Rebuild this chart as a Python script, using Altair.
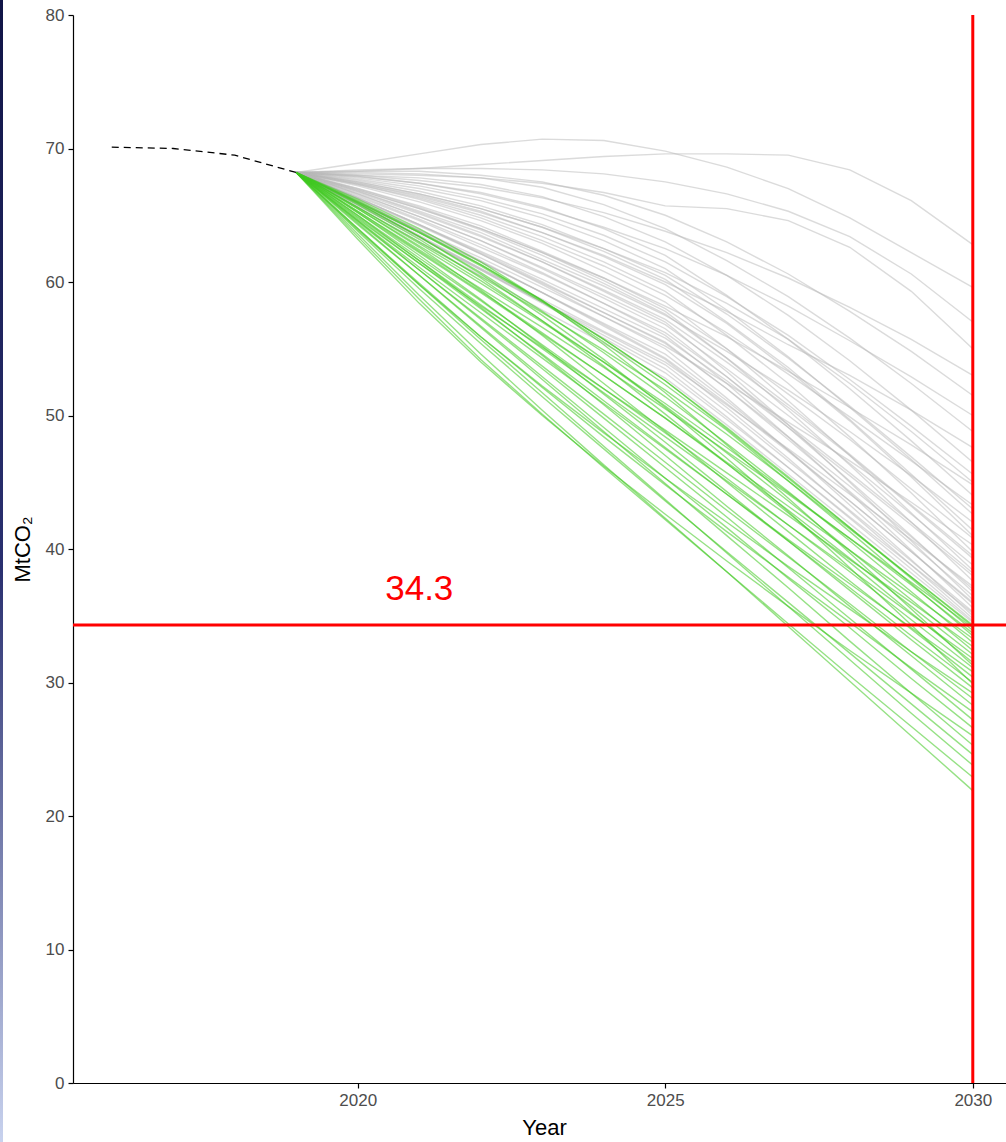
import altair as alt
import pandas as pd

# ---------------- data ----------------
hist_years = [2016, 2017, 2018, 2019]
hist_values = [70.1, 70.0, 69.5, 68.2]

years = [2019, 2020, 2021, 2022, 2023, 2024, 2025, 2026, 2027, 2028, 2029, 2030]

grey_runs = [
    [68.2, 65.6, 63.0, 60.5, 57.9, 55.4, 52.8, 49.3, 45.6, 41.9, 38.2, 34.5],
    [68.2, 65.9, 63.5, 61.0, 58.5, 56.0, 53.5, 49.9, 46.1, 42.3, 38.5, 34.6],
    [68.2, 66.1, 63.9, 61.6, 59.2, 56.7, 54.2, 50.6, 46.8, 42.8, 38.8, 34.8],
    [68.2, 66.3, 64.3, 62.1, 59.8, 57.4, 55.0, 51.3, 47.4, 43.3, 39.2, 35.0],
    [68.2, 65.7, 63.3, 60.9, 58.5, 56.2, 53.8, 50.3, 46.6, 42.9, 39.1, 35.3],
    [68.2, 66.5, 64.7, 62.8, 60.7, 58.4, 56.0, 52.4, 48.4, 44.2, 39.9, 35.6],
    [68.2, 66.0, 63.8, 61.5, 59.2, 56.9, 54.6, 51.1, 47.4, 43.6, 39.8, 35.9],
    [68.2, 66.8, 65.2, 63.5, 61.5, 59.3, 57.0, 53.3, 49.3, 45.0, 40.6, 36.2],
    [68.2, 66.2, 64.2, 62.1, 59.9, 57.7, 55.5, 52.0, 48.2, 44.3, 40.4, 36.5],
    [68.2, 66.6, 64.9, 63.1, 61.0, 58.8, 56.5, 52.9, 49.1, 45.1, 41.0, 36.8],
    [68.2, 65.8, 63.4, 61.0, 58.7, 56.3, 54.0, 50.8, 47.5, 44.1, 40.7, 37.2],
    [68.2, 67.0, 65.6, 64.0, 62.2, 60.1, 57.8, 54.3, 50.4, 46.3, 42.0, 37.6],
    [68.2, 66.3, 64.3, 62.3, 60.2, 58.0, 55.8, 52.6, 49.1, 45.5, 41.8, 38.0],
    [68.2, 67.2, 66.0, 64.6, 62.9, 60.8, 58.5, 55.0, 51.1, 47.0, 42.7, 38.4],
    [68.2, 66.6, 64.9, 63.1, 61.1, 59.0, 56.8, 53.5, 50.0, 46.4, 42.6, 38.8],
    [68.2, 66.7, 65.1, 63.4, 61.5, 59.4, 57.2, 54.0, 50.6, 47.0, 43.2, 39.3],
    [68.2, 67.3, 66.3, 65.0, 63.4, 61.5, 59.3, 56.0, 52.4, 48.4, 44.2, 39.8],
    [68.2, 66.0, 63.9, 61.8, 59.6, 57.4, 55.2, 52.4, 49.5, 46.6, 43.5, 40.3],
    [68.2, 67.0, 65.7, 64.2, 62.3, 60.3, 58.0, 55.0, 51.6, 48.2, 44.5, 40.8],
    [68.2, 67.5, 66.6, 65.5, 64.1, 62.3, 60.2, 57.0, 53.6, 49.7, 45.6, 41.4],
    [68.2, 66.8, 65.3, 63.7, 61.7, 59.7, 57.5, 54.8, 51.9, 48.8, 45.5, 42.0],
    [68.2, 67.7, 67.0, 66.1, 64.8, 63.1, 61.0, 57.9, 54.4, 50.6, 46.7, 42.6],
    [68.2, 67.3, 66.2, 64.8, 63.1, 61.2, 59.0, 56.2, 53.1, 49.9, 46.6, 43.3],
    [68.2, 67.9, 67.4, 66.7, 65.6, 64.0, 62.0, 59.0, 55.7, 52.0, 48.1, 44.0],
    [68.2, 66.9, 65.5, 64.0, 62.2, 60.3, 58.2, 55.9, 53.3, 50.6, 47.8, 44.8],
    [68.2, 67.8, 67.2, 66.3, 65.1, 63.5, 61.5, 58.9, 56.0, 52.7, 49.2, 45.6],
    [68.2, 68.0, 67.8, 67.3, 66.4, 64.9, 63.0, 60.5, 57.5, 54.1, 50.4, 46.5],
    [68.2, 67.4, 66.5, 65.3, 63.7, 62.0, 60.0, 57.8, 55.3, 53.0, 50.4, 47.6],
    [68.2, 68.2, 68.1, 67.8, 67.1, 65.8, 64.0, 61.6, 58.9, 55.8, 52.4, 48.8],
    [68.2, 67.9, 67.4, 66.6, 65.5, 64.1, 62.5, 60.5, 58.2, 55.6, 52.9, 50.0],
    [68.2, 68.3, 68.3, 68.0, 67.5, 66.5, 65.0, 63.0, 60.6, 57.8, 54.8, 51.5],
    [68.2, 68.0, 67.6, 67.1, 66.3, 65.2, 63.8, 62.2, 60.3, 58.1, 55.7, 53.0],
    [68.2, 68.1, 68.0, 67.8, 67.4, 66.7, 65.7, 65.5, 64.6, 62.6, 59.3, 55.0],
    [68.2, 68.4, 68.5, 68.5, 68.4, 68.1, 67.5, 66.6, 65.3, 63.4, 60.6, 57.0],
    [68.2, 68.9, 69.6, 70.3, 70.7, 70.6, 69.8, 68.6, 67.0, 64.8, 62.2, 59.6],
    [68.2, 68.3, 68.5, 68.8, 69.1, 69.4, 69.6, 69.6, 69.5, 68.4, 66.1, 62.8],
    [68.2, 67.5, 66.6, 65.5, 64.1, 62.5, 60.7, 58.4, 55.7, 52.4, 48.8, 45.0],
    [68.2, 67.4, 66.4, 65.2, 63.7, 61.9, 59.8, 56.9, 53.4, 49.6, 45.4, 41.0],
    [68.2, 66.4, 64.6, 62.6, 60.6, 58.4, 56.2, 52.9, 49.3, 45.7, 42.0, 38.2],
    [68.2, 65.9, 63.7, 61.5, 59.2, 56.8, 54.3, 50.9, 47.3, 43.6, 39.8, 36.0],
    [68.2, 67.6, 66.8, 65.7, 64.3, 62.5, 60.5, 57.6, 54.3, 50.7, 46.9, 43.0],
    [68.2, 66.9, 65.5, 63.9, 62.0, 59.9, 57.6, 54.3, 50.8, 47.1, 43.3, 39.5],
    [68.2, 66.3, 64.3, 62.2, 60.0, 57.7, 55.4, 52.0, 48.4, 44.7, 40.9, 37.0],
    [68.2, 65.8, 63.4, 60.9, 58.4, 55.8, 53.2, 49.7, 46.1, 42.4, 38.8, 35.2],
]

green_runs = [
    [68.2, 63.6, 59.0, 54.6, 50.4, 46.3, 42.3, 38.3, 34.2, 30.1, 26.0, 21.9],
    [68.2, 63.4, 58.7, 54.2, 50.1, 46.1, 42.2, 38.3, 34.4, 30.5, 26.7, 22.9],
    [68.2, 64.0, 59.8, 55.7, 51.7, 47.7, 43.7, 39.7, 35.7, 31.7, 27.7, 23.8],
    [68.2, 63.8, 59.5, 55.4, 51.4, 47.5, 43.6, 39.8, 36.0, 32.2, 28.4, 24.6],
    [68.2, 64.4, 60.5, 56.6, 52.7, 48.8, 44.9, 41.0, 37.1, 33.1, 29.2, 25.3],
    [68.2, 63.2, 58.4, 54.0, 50.0, 46.2, 42.6, 39.1, 35.7, 32.4, 29.2, 26.0],
    [68.2, 64.3, 60.5, 56.7, 52.9, 49.1, 45.3, 41.6, 37.8, 34.1, 30.3, 26.6],
    [68.2, 64.6, 60.9, 57.2, 53.5, 49.8, 46.1, 42.4, 38.6, 34.8, 31.0, 27.2],
    [68.2, 64.0, 59.9, 55.9, 52.1, 48.4, 44.8, 41.3, 37.9, 34.5, 31.1, 27.8],
    [68.2, 65.0, 61.6, 58.1, 54.5, 50.8, 47.0, 43.2, 39.5, 35.7, 32.0, 28.3],
    [68.2, 64.5, 60.9, 57.3, 53.7, 50.1, 46.5, 42.9, 39.4, 35.9, 32.3, 28.8],
    [68.2, 63.9, 59.8, 55.9, 52.2, 48.7, 45.3, 42.0, 38.7, 35.5, 32.3, 29.2],
    [68.2, 65.2, 62.0, 58.7, 55.2, 51.6, 48.0, 44.3, 40.6, 36.9, 33.2, 29.6],
    [68.2, 64.8, 61.4, 58.0, 54.6, 51.1, 47.6, 44.1, 40.6, 37.1, 33.5, 30.0],
    [68.2, 65.5, 62.6, 59.4, 56.0, 52.4, 48.8, 45.0, 41.3, 37.6, 34.0, 30.4],
    [68.2, 64.6, 61.1, 57.7, 54.3, 50.9, 47.5, 44.1, 40.7, 37.4, 34.1, 30.8],
    [68.2, 65.0, 61.8, 58.6, 55.3, 52.0, 48.7, 45.3, 41.8, 38.3, 34.7, 31.1],
    [68.2, 65.8, 63.2, 60.3, 57.1, 53.7, 50.1, 46.4, 42.7, 39.0, 35.2, 31.5],
    [68.2, 64.9, 61.6, 58.3, 55.0, 51.7, 48.4, 45.1, 41.8, 38.5, 35.1, 31.8],
    [68.2, 65.3, 62.3, 59.3, 56.2, 53.0, 49.8, 46.4, 42.9, 39.3, 35.7, 32.1],
    [68.2, 65.6, 62.9, 60.1, 57.1, 54.0, 50.7, 47.2, 43.6, 39.9, 36.2, 32.4],
    [68.2, 64.7, 61.4, 58.2, 55.1, 52.0, 48.9, 45.7, 42.5, 39.2, 36.0, 32.7],
    [68.2, 65.9, 63.4, 60.7, 57.8, 54.7, 51.4, 47.9, 44.3, 40.6, 36.8, 33.0],
    [68.2, 65.2, 62.2, 59.2, 56.1, 53.0, 49.8, 46.5, 43.2, 39.9, 36.6, 33.3],
    [68.2, 66.0, 63.7, 61.2, 58.5, 55.5, 52.3, 48.9, 45.1, 41.3, 37.4, 33.5],
    [68.2, 65.5, 62.7, 59.9, 57.0, 54.0, 50.9, 47.6, 44.2, 40.8, 37.3, 33.7],
    [68.2, 66.1, 63.8, 61.3, 58.6, 55.7, 52.6, 49.1, 45.4, 41.6, 37.8, 33.9],
    [68.2, 65.3, 62.4, 59.5, 56.6, 53.6, 50.5, 47.3, 44.1, 40.8, 37.5, 34.1],
    [68.2, 66.0, 63.7, 61.3, 58.6, 55.7, 52.6, 49.0, 45.3, 41.6, 37.9, 34.2],
    [68.2, 65.6, 63.0, 60.4, 57.7, 54.9, 51.9, 48.6, 45.1, 41.5, 37.9, 34.3],
    [68.2, 66.2, 64.0, 61.5, 58.6, 55.3, 51.7, 47.8, 43.8, 39.7, 35.5, 31.3],
    [68.2, 65.9, 63.4, 60.6, 57.5, 54.2, 50.6, 46.8, 42.8, 38.6, 34.3, 29.9],
]

target_value = 34.3
target_year = 2030
target_label = "34.3"
label_year = 2021.0
label_value = 37.0

y_ticks = [0, 10, 20, 30, 40, 50, 60, 70, 80]
x_ticks = [2020, 2025, 2030]

# ---------------- tables ----------------
def to_long(runs, prefix):
    rows = []
    for i, vals in enumerate(runs):
        for yr, v in zip(years, vals):
            rows.append({"year": yr, "value": v, "run": f"{prefix}{i}"})
    return pd.DataFrame(rows)

grey_df = to_long(grey_runs, "g")
green_df = to_long(green_runs, "n")
hist_df = pd.DataFrame({"year": hist_years, "value": hist_values})
hline_df = pd.DataFrame({"value": [target_value]})
vline_df = pd.DataFrame({"year": [target_year]})
label_df = pd.DataFrame({"year": [label_year], "value": [label_value], "label": [target_label]})

W, H = 933, 1068
FONT = "Liberation Sans"

xscale = alt.Scale(domain=[2015.37, 2030.54], nice=False, zero=False)
yscale = alt.Scale(domain=[0, 80], nice=False, zero=True)

x_enc = alt.X(
    "year:Q", scale=xscale,
    axis=alt.Axis(values=x_ticks, format="d", title="Year", grid=False,
                  titleX=471, titleY=51, titleBaseline="alphabetic", titleAlign="center"),
)
y_enc = alt.Y(
    "value:Q", scale=yscale,
    axis=alt.Axis(values=y_ticks, format="d", title="MtCO₂", grid=False,
                  titleX=-51, titleY=H / 2, titleAngle=270, titleBaseline="middle",
                  titleAlign="center"),
)

grey = alt.Chart(grey_df).mark_line(
    color="#b8b8b8", opacity=0.5, strokeWidth=1.4, clip=True
).encode(x=x_enc, y=y_enc, detail="run:N")

green = alt.Chart(green_df).mark_line(
    color="#40c820", opacity=0.55, strokeWidth=1.4, clip=True
).encode(x="year:Q", y="value:Q", detail="run:N")

hist = alt.Chart(hist_df).mark_line(
    color="black", strokeWidth=1.3, strokeDash=[7, 5]
).encode(x="year:Q", y="value:Q")

hline = alt.Chart(hline_df).mark_rule(color="#ff0000", strokeWidth=3).encode(
    y="value:Q", x=alt.value(0), x2=alt.value(W)
)
vline = alt.Chart(vline_df).mark_rule(color="#ff0000", strokeWidth=3).encode(
    x="year:Q", y=alt.value(0), y2=alt.value(H)
)
label = alt.Chart(label_df).mark_text(
    color="#ff0000", fontSize=35, font=FONT, align="center", baseline="middle"
).encode(x="year:Q", y="value:Q", text="label:N")

strip_df = pd.DataFrame({"k": [0]})
strip = alt.Chart(strip_df).mark_rect(
    color=alt.Gradient(
        gradient="linear",
        stops=[alt.GradientStop(color="#101446", offset=0),
               alt.GradientStop(color="#2a3070", offset=0.5),
               alt.GradientStop(color="#c8d2ee", offset=1)],
        x1=0, x2=0, y1=0, y2=1,
    )
).encode(x=alt.value(-73), x2=alt.value(-70), y=alt.value(-15), y2=alt.value(H + 59))

chart = alt.layer(grey, green, hist, hline, vline, label, strip).properties(
    width=W, height=H,
    autosize=alt.AutoSizeParams(type="none"),
    padding={"left": 73, "top": 15, "right": 0, "bottom": 59},
).configure_view(stroke=None).configure_axis(
    domainColor="black", domainWidth=1.2, tickColor="black", tickWidth=1.2, tickSize=5,
    labelColor="#4d4d4d", labelFont=FONT, labelFontSize=17, labelPadding=4,
    titleColor="black", titleFont=FONT, titleFontSize=22, titleFontWeight="normal",
)

chart.save("out.html", embed_options={"renderer": "svg", "actions": False})
